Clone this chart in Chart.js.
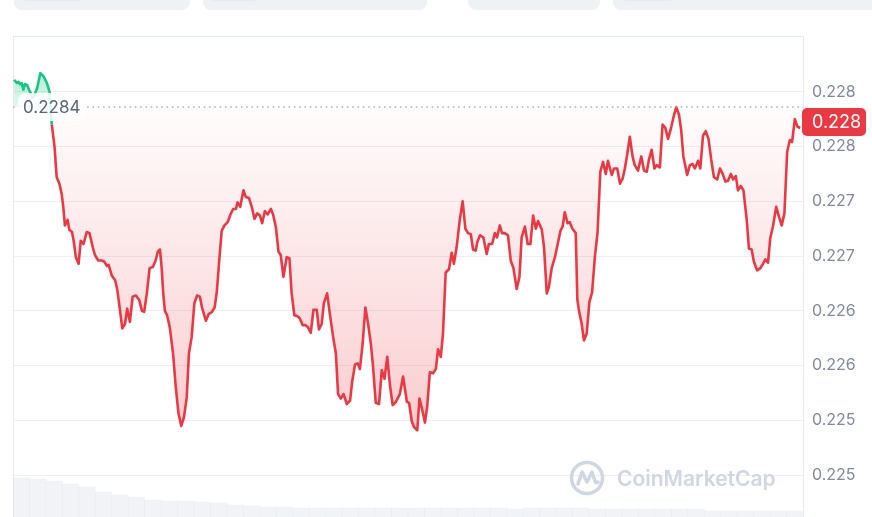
<!DOCTYPE html>
<html>
<head>
<meta charset="utf-8">
<script src="https://cdn.jsdelivr.net/npm/chart.js@4.4.1/dist/chart.umd.min.js"></script>
<style>
  html, body { margin: 0; padding: 0; background: #fff; overflow: hidden; }
  body { width: 872px; height: 517px; position: relative; font-family: Inter, "Noto Sans", sans-serif; }
  .tabs { position: absolute; top: -14px; height: 24px; background: #eff2f5; border-radius: 8px; }
  .tabs .on { position: absolute; top: -4px; height: 17px; background: #fff; border-radius: 7px; box-shadow: 0 1px 2px rgba(88,102,126,0.18); }
  #priceChart { position: absolute; left: 0; top: 0; }
  .mark { position: absolute; left: 569px; top: 460px; display: flex; align-items: center; color: #cfd6e4; font-size: 21px; font-weight: 600; }
  .mark span { margin-left: 12px; }
</style>
</head>
<body>
<div class="tabs" style="left:14px;width:176px"><div class="on" style="left:5px;width:67px"></div></div>
<div class="tabs" style="left:203px;width:224px"><div class="on" style="left:5px;width:52px"></div></div>
<div class="tabs" style="left:468px;width:132px"></div>
<div class="tabs" style="left:613px;width:272px"><div class="on" style="left:6px;width:56px"></div></div>
<canvas id="priceChart" width="872" height="519"></canvas>
<div class="mark">
  <svg width="36" height="36" viewBox="0 0 36 36"><circle cx="18" cy="18" r="15.5" fill="none" stroke="#cfd6e4" stroke-width="3.5"/><path d="M9 24 L13 12 L18 22 L23 12 L26 21 Q27 24 29 22" fill="none" stroke="#cfd6e4" stroke-width="3.5" stroke-linejoin="round" stroke-linecap="round"/></svg>
  <span>CoinMarketCap</span>
</div>
<script>
// minutes since start of the 24h window
const times = [0,5,8,11,14,17,20,24,28,35,42,48,54,60,65,69,74,78,83,87,90,93,98,101,106,109,113,118,122,127,133,138,144,148,154,160,165,170,173,179,185,189,194,198,203,207,212,217,223,229,234,238,243,248,254,259,263,267,270,273,276,280,285,291,296,301,306,311,316,320,325,330,335,340,344,351,356,362,367,371,375,380,385,391,396,401,406,409,414,417,420,424,430,435,440,445,450,454,459,464,470,474,479,484,488,493,499,504,508,513,519,523,528,533,538,543,548,554,558,563,567,573,578,584,589,593,598,603,609,615,619,624,629,633,638,643,648,653,657,662,668,673,678,683,688,693,699,706,712,719,723,728,732,738,742,746,752,756,761,767,772,776,781,785,790,796,801,805,810,816,821,826,831,836,840,845,848,853,859,865,869,875,880,884,889,893,898,904,909,914,920,925,929,935,940,945,950,955,959,966,970,975,979,984,990,995,1000,1004,1008,1013,1017,1022,1028,1031,1034,1039,1043,1048,1053,1058,1063,1068,1073,1078,1083,1087,1094,1098,1104,1109,1114,1118,1122,1127,1132,1136,1142,1148,1153,1158,1162,1167,1172,1176,1182,1187,1192,1197,1203,1208,1212,1217,1221,1225,1232,1237,1242,1246,1252,1256,1261,1266,1271,1276,1281,1287,1292,1297,1302,1307,1312,1316,1321,1325,1330,1335,1341,1345,1350,1354,1360,1366,1371,1375,1380,1384,1389,1395,1400,1405,1410,1415,1420,1424,1429,1434,1439];

const prices = [0.22861,0.22858,0.22859,0.22857,0.22858,0.22852,0.22857,0.22856,0.22851,0.22845,0.22853,0.22867,0.22864,0.22858,0.22850,0.22820,0.22800,0.22772,0.22766,0.22757,0.22745,0.22728,0.22733,0.22724,0.22722,0.22714,0.22699,0.22693,0.22714,0.22711,0.22722,0.22721,0.22708,0.22701,0.22696,0.22696,0.22695,0.22691,0.22692,0.22682,0.22678,0.22669,0.22650,0.22634,0.22638,0.22652,0.22640,0.22663,0.22664,0.22660,0.22650,0.22649,0.22666,0.22689,0.22690,0.22696,0.22704,0.22706,0.22690,0.22666,0.22650,0.22646,0.22635,0.22611,0.22580,0.22556,0.22545,0.22553,0.22571,0.22611,0.22626,0.22657,0.22664,0.22663,0.22653,0.22641,0.22647,0.22649,0.22653,0.22667,0.22693,0.22723,0.22728,0.22731,0.22738,0.22743,0.22743,0.22749,0.22745,0.22753,0.22760,0.22754,0.22753,0.22745,0.22734,0.22739,0.22737,0.22730,0.22741,0.22738,0.22743,0.22738,0.22727,0.22704,0.22701,0.22681,0.22699,0.22698,0.22666,0.22646,0.22645,0.22643,0.22637,0.22637,0.22635,0.22630,0.22651,0.22651,0.22633,0.22638,0.22657,0.22666,0.22647,0.22626,0.22611,0.22574,0.22570,0.22574,0.22565,0.22568,0.22586,0.22601,0.22602,0.22597,0.22620,0.22653,0.22638,0.22620,0.22599,0.22566,0.22565,0.22596,0.22588,0.22608,0.22582,0.22564,0.22567,0.22574,0.22590,0.22567,0.22566,0.22549,0.22544,0.22541,0.22570,0.22562,0.22548,0.22562,0.22594,0.22593,0.22597,0.22615,0.22608,0.22629,0.22685,0.22688,0.22703,0.22693,0.22708,0.22734,0.22750,0.22725,0.22721,0.22720,0.22706,0.22705,0.22713,0.22719,0.22717,0.22702,0.22711,0.22711,0.22721,0.22717,0.22728,0.22721,0.22721,0.22719,0.22696,0.22689,0.22670,0.22681,0.22717,0.22727,0.22711,0.22711,0.22737,0.22725,0.22732,0.22724,0.22708,0.22666,0.22672,0.22689,0.22699,0.22711,0.22723,0.22727,0.22740,0.22730,0.22731,0.22725,0.22721,0.22660,0.22650,0.22638,0.22623,0.22629,0.22658,0.22667,0.22699,0.22722,0.22777,0.22786,0.22775,0.22787,0.22774,0.22780,0.22780,0.22766,0.22771,0.22780,0.22792,0.22809,0.22791,0.22783,0.22778,0.22791,0.22778,0.22777,0.22788,0.22797,0.22780,0.22783,0.22781,0.22820,0.22817,0.22807,0.22818,0.22829,0.22836,0.22829,0.22815,0.22791,0.22774,0.22783,0.22784,0.22780,0.22787,0.22780,0.22810,0.22814,0.22807,0.22788,0.22772,0.22770,0.22780,0.22775,0.22768,0.22769,0.22775,0.22770,0.22773,0.22760,0.22764,0.22760,0.22733,0.22707,0.22706,0.22695,0.22687,0.22689,0.22693,0.22697,0.22694,0.22716,0.22727,0.22745,0.22736,0.22728,0.22739,0.22795,0.22806,0.22804,0.22825,0.22818,0.22817];

// volume per half hour slot
const volSlots = ['00:00','00:30','01:00','01:30','02:00','02:30','03:00','03:30','04:00','04:30','05:00','05:30','06:00','06:30','07:00','07:30','08:00','08:30','09:00','09:30','10:00','10:30','11:00','11:30','12:00','12:30','13:00','13:30','14:00','14:30','15:00','15:30','16:00','16:30','17:00','17:30','18:00','18:30','19:00','19:30','20:00','20:30','21:00','21:30','22:00','22:30','23:00','23:30'];
const volumes = [41,40,38,35,32,27,24,22,19,18,18,17,16,14,13,12,12,11,11,11,11,11,11,11,11,11,11,11,11,11,10,11,11,11,11,10,10,10,10,10,10,10,8,8,8,8,8,8];

const yTicks = [0.2250, 0.2255, 0.2260, 0.2265, 0.2270, 0.2275, 0.2280, 0.2285];
const baseline = 0.22836;

const green = '#16c784';
const red = '#ea3943';

const canvas = document.getElementById('priceChart');
const ctx = canvas.getContext('2d');

const redFill = ctx.createLinearGradient(0, 107, 0, 440);
redFill.addColorStop(0, 'rgba(234,57,67,0.01)');
redFill.addColorStop(1, 'rgba(234,57,67,0.26)');
const greenFill = ctx.createLinearGradient(0, 70, 0, 107);
greenFill.addColorStop(0, 'rgba(22,199,132,0.35)');
greenFill.addColorStop(1, 'rgba(22,199,132,0.12)');

Chart.defaults.font.family = "Inter, 'Noto Sans', sans-serif";

const extras = {
  id: 'extras',
  beforeDatasetsDraw(chart) {
    const { ctx, chartArea: a } = chart;
    ctx.save();
    ctx.strokeStyle = '#e6e9ee';
    ctx.lineWidth = 1;
    ctx.strokeRect(a.left + 0.5, a.top - 0.5, a.right - a.left, a.bottom - a.top + 2);
    ctx.restore();
  },
  afterDatasetsDraw(chart) {
    const { ctx, chartArea: a, scales } = chart;
    const by = scales.y.getPixelForValue(baseline);
    ctx.save();
    ctx.strokeStyle = '#a6b0c3';
    ctx.lineWidth = 1.5;
    ctx.setLineDash([1.5, 3.8]);
    ctx.beginPath();
    ctx.moveTo(a.left, by);
    ctx.lineTo(a.right, by);
    ctx.stroke();
    ctx.setLineDash([]);
    ctx.fillStyle = 'rgba(255,255,255,0.85)';
    ctx.beginPath();
    ctx.roundRect(a.left + 5, by - 14, 67, 28, 8);
    ctx.fill();
    ctx.font = "17px Inter, 'Noto Sans', sans-serif";
    ctx.fillStyle = '#58667e';
    ctx.textBaseline = 'middle';
    ctx.fillText(baseline.toFixed(4), a.left + 10, by + 1);
    ctx.restore();
  },
  afterDraw(chart) {
    const { ctx, chartArea: a, scales } = chart;
    const last = prices[prices.length - 1];
    const ly = scales.y.getPixelForValue(last);
    ctx.save();
    ctx.fillStyle = red;
    ctx.beginPath();
    ctx.roundRect(a.right - 1, ly - 20, 64, 28, 5);
    ctx.fill();
    ctx.font = "18px Inter, 'Noto Sans', sans-serif";
    ctx.fillStyle = '#fff';
    ctx.textBaseline = 'middle';
    ctx.fillText(last.toFixed(3), a.right + 9, ly - 5);
    ctx.restore();
  }
};

new Chart(ctx, {
  type: 'line',
  data: {
    labels: volSlots,
    datasets: [{
      type: 'line',
      label: 'Price',
      data: times.map((t, i) => ({ x: t, y: prices[i] })),
      xAxisID: 'x',
      yAxisID: 'y',
      borderColor: red,
      borderWidth: 2.6,
      borderJoinStyle: 'round',
      pointRadius: 0,
      tension: 0,
      segment: {
        borderColor: c => (c.p0.parsed.y > baseline ? green : red)
      },
      fill: { target: { value: baseline }, above: greenFill, below: redFill },
      order: 1
    }, {
      type: 'bar',
      label: 'Volume',
      data: volumes,
      xAxisID: 'xv',
      yAxisID: 'yv',
      backgroundColor: 'rgba(207,214,228,0.3)',
      barPercentage: 1,
      categoryPercentage: 1,
      grouped: false,
      order: 2
    }]
  },
  options: {
    responsive: false,
    animation: false,
    datasets: { bar: { barPercentage: 1, categoryPercentage: 1 } },
    layout: { padding: { top: 37, left: 13, right: 0, bottom: 0 } },
    scales: {
      x: { type: 'linear', display: false, min: -2, max: 1444 },
      xv: { type: 'category', display: false, offset: true },
      y: {
        position: 'right',
        min: 0.2246,
        max: 0.2290,
        afterBuildTicks: s => { s.ticks = yTicks.map(v => ({ value: v })); },
        afterFit: s => { s.width = 69; s.paddingTop = 0; s.paddingBottom = 0; },
        grid: { color: '#eef0f3', drawTicks: false },
        border: { display: false },
        ticks: {
          padding: 9,
          color: '#808a9d',
          font: { size: 16 },
          callback: v => (Math.floor(v * 1000 + 1e-6) / 1000).toFixed(3)
        }
      },
      yv: { display: false, min: 0, max: 482 }
    },
    plugins: {
      legend: { display: false },
      tooltip: { enabled: false }
    }
  },
  plugins: [extras]
});
</script>
</body>
</html>
